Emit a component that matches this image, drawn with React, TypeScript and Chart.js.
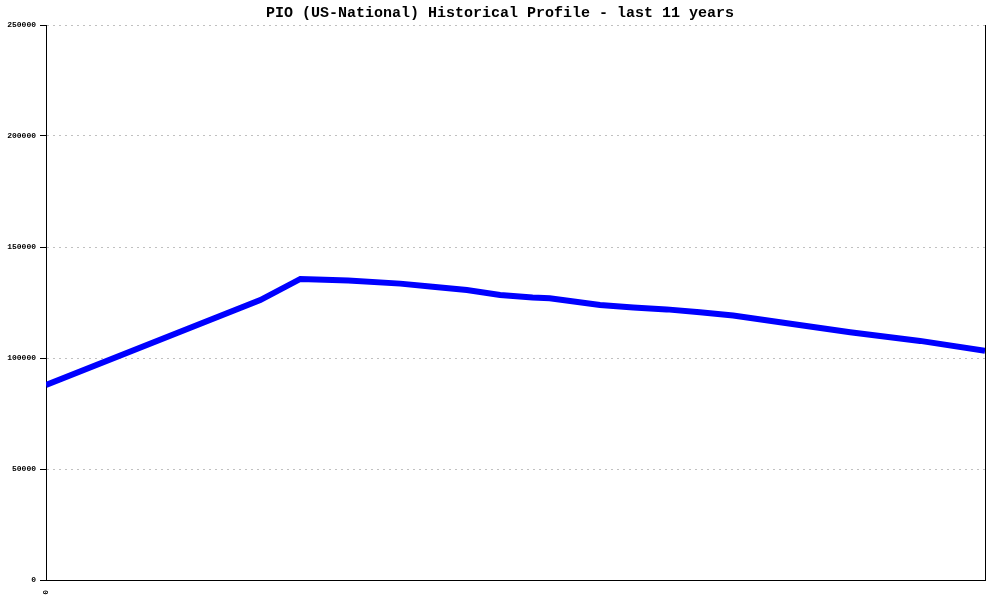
import React, { useEffect, useRef } from "react";
import { Chart, registerables } from "chart.js";

Chart.register(...registerables);

const TITLE = "PIO (US-National) Historical Profile - last 11 years";
// Position along the 11-year span (years from start)
const xYears = [0, 2.51, 2.98, 3.17, 3.54, 4.15, 4.53, 4.93, 5.32, 5.7, 5.9, 6.49, 6.88, 7.27, 7.66, 8.05, 8.6, 9.42, 10.24, 11];
const profileValues = [87800, 126100, 135600, 135400, 134900, 133500, 132100, 130600, 128400, 127300, 126900, 123900, 122800, 121900, 120600, 119100, 116100, 111600, 107700, 103200];
const yTicks = [0, 50000, 100000, 150000, 200000, 250000];
const xTickLabels = ["0"];

export default function App() {
  const ref = useRef<HTMLCanvasElement | null>(null);
  useEffect(() => {
    if (!ref.current) return;
    const chart = new Chart(ref.current, {
      type: "line",
      data: {
        datasets: [
          {
            data: xYears.map((x, i) => ({ x, y: profileValues[i] })),
            borderColor: "#0000ff",
            borderWidth: 6,
            pointRadius: 0,
            tension: 0,
            fill: false,
          },
        ],
      },
      options: {
        responsive: false,
        animation: false,
        layout: { padding: 0 },
        plugins: {
          legend: { display: false },
          tooltip: { enabled: false },
          title: {
            display: true,
            text: TITLE,
            color: "#000",
            font: { family: "Liberation Mono", size: 15, weight: "bold" },
            padding: { top: 4, bottom: 3 },
          },
        },
        scales: {
          x: {
            type: "linear",
            min: 0,
            max: 11,
            afterBuildTicks: (axis: any) => {
              axis.ticks = [{ value: 0 }];
            },
            afterFit: (axis: any) => {
              axis.height = 20;
            },
            grid: { display: false },
            border: { display: true, color: "#000", width: 1 },
            ticks: {
              color: "#000",
              maxRotation: 90,
              minRotation: 90,
              padding: 2,
              font: { family: "Liberation Mono", size: 8, weight: "bold" },
              callback: (_v: any, i: number) => xTickLabels[i] ?? "",
            },
          },
          y: {
            type: "linear",
            min: 0,
            max: 250000,
            afterBuildTicks: (axis: any) => {
              axis.ticks = yTicks.map((v) => ({ value: v }));
            },
            afterFit: (axis: any) => {
              axis.width = 46;
            },
            grid: {
              color: "#c0c0c0",
              tickColor: "#000",
              tickLength: 6,
              tickBorderDash: [],
            },
            border: { display: true, color: "#000", width: 1, dash: [2, 4] },
            ticks: {
              color: "#000",
              padding: 4,
              font: { family: "Liberation Mono", size: 8, weight: "bold" },
              callback: (v: any) => String(v),
            },
          },
          y2: {
            type: "linear",
            position: "right",
            min: 0,
            max: 250000,
            afterFit: (axis: any) => {
              axis.width = 15;
            },
            grid: { display: false },
            border: { display: true, color: "#000", width: 1 },
            ticks: { display: false },
          },
        },
      },
      plugins: [
        {
          id: "dashGrid",
          beforeDraw: (c: any) => {
            const g = c.options.scales.y.grid;
            g.borderDash = [2, 4];
          },
        },
      ],
    } as any);
    return () => chart.destroy();
  }, []);
  return (
    <div style={{ position: "absolute", left: 0, top: 0, width: 1000, height: 600, background: "#fff" }}>
      <canvas ref={ref} width={1000} height={600} />
    </div>
  );
}
